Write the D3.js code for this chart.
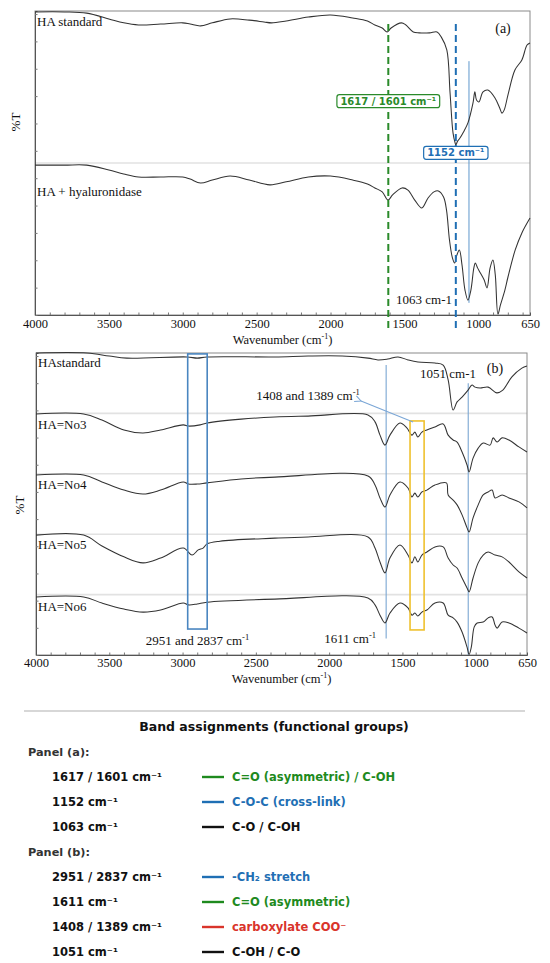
<!DOCTYPE html>
<html>
<head>
<meta charset="utf-8">
<script src="https://cdn.jsdelivr.net/npm/d3@7"></script>
<style>
  html, body { margin: 0; padding: 0; background: #fff; }
  svg { display: block; }
</style>
</head>
<body>
<svg id="chart" width="550" height="963"></svg>
<script>
// ---------------- DATA ----------------
const wavenumberTicks = [4000, 3500, 3000, 2500, 2000, 1500, 1000, 650];
const minorTickStep = 100;

// Panel (a) spectra: [wavenumber, relative %T (stacked)]
const haStandardA = [
  [4000,99.7],[3800,99.7],[3650,99.3],[3500,97.4],[3400,96.1],[3300,95.4],[3150,95.7],[3000,96.1],
  [2950,95.7],[2880,95.1],[2800,96.1],[2680,97.4],[2550,97.0],[2450,96.4],[2400,96.1],[2300,96.7],
  [2150,98.0],[2000,98.7],[1850,97.7],[1750,96.7],[1700,95.4],[1650,94.4],[1617,93.1],[1590,94.4],
  [1520,96.1],[1490,95.4],[1440,93.1],[1400,92.8],[1330,92.8],[1279,93.1],[1250,91.4],[1213,87.2],
  [1191,73.0],[1171,59.9],[1157,56.6],[1152,55.9],[1140,57.2],[1124,58.2],[1100,60.2],[1070,63.2],
  [1036,69.7],[1023,73.4],[1012,70.7],[996,70.1],[968,73.4],[935,74.0],[887,71.4],[855,68.1],
  [840,66.4],[825,67.4],[799,72.4],[752,80.6],[705,83.9],[670,88.8],[650,89.5]
];
const haHyaluronidaseA = [
  [4000,49.3],[3800,49.3],[3650,49.3],[3500,47.7],[3400,46.4],[3300,45.4],[3150,45.4],[3000,45.4],
  [2950,44.7],[2880,43.4],[2800,44.4],[2680,45.7],[2550,44.4],[2410,42.8],[2300,43.8],[2150,45.4],
  [2000,45.7],[1850,44.4],[1750,43.1],[1700,41.8],[1650,40.5],[1611,37.8],[1580,39.5],[1516,41.8],
  [1476,41.1],[1430,37.8],[1382,35.2],[1340,38.5],[1300,40.5],[1270,40.8],[1235,38.8],[1215,34.5],
  [1195,24.7],[1175,18.8],[1160,17.1],[1145,19.7],[1128,21.4],[1110,16.4],[1090,8.2],[1070,4.9],
  [1050,8.2],[1030,15.5],[1020,17.1],[1005,15.5],[989,14.1],[960,11.5],[941,8.9],[920,15.5],
  [901,18.1],[885,13.2],[867,0.3],[850,3.3],[820,8.2],[799,12.5],[750,21.4],[705,27.0],[650,31.9]
];
const seriesNamesA = ["HA standard", "HA + hyaluronidase"];
const separatorsA = [50];

// Panel (b) spectra
const haStandardB = [
  [4000,100],[3650,100],[3500,99.0],[3380,98.3],[2970,98.7],[2900,98.3],[2833,98.7],[2370,98.7],
  [2144,99.0],[1912,99.0],[1735,98.3],[1667,97.7],[1600,98.0],[1530,98.7],[1462,97.7],[1394,97.0],
  [1278,96.7],[1222,96.0],[1188,91.1],[1154,81.1],[1127,83.8],[1093,85.4],[1052,87.7],[1025,89.4],
  [1004,88.7],[970,88.4],[915,88.7],[856,86.8],[815,87.7],[753,92.1],[685,95.0],[650,95.7]
];
const haNo3 = [
  [4000,79.8],[3675,79.8],[3550,77.8],[3400,74.5],[3270,73.5],[3150,74.5],[2995,76.2],[2960,75.8],
  [2880,76.2],[2833,76.8],[2600,78.1],[2370,78.8],[2144,79.1],[1735,79.5],[1687,77.2],[1653,72.8],
  [1619,69.5],[1585,72.8],[1517,76.8],[1470,75.2],[1435,72.8],[1415,73.8],[1395,72.2],[1367,73.8],
  [1333,74.5],[1278,75.5],[1222,76.5],[1188,72.8],[1154,71.2],[1127,70.5],[1093,67.2],[1059,62.9],
  [1045,60.6],[1018,65.2],[983,68.5],[949,70.2],[902,69.5],[881,71.9],[854,70.5],[820,71.9],
  [773,71.2],[705,68.9],[650,67.2]
];
const haNo4 = [
  [4000,59.6],[3675,59.6],[3550,57.3],[3400,54.6],[3270,53.3],[3150,54.6],[2995,57.3],[2960,56.6],
  [2900,56.6],[2833,57.0],[2600,58.3],[2370,58.9],[1735,59.3],[1687,56.3],[1653,52.0],[1619,49.0],
  [1585,53.0],[1517,57.3],[1462,55.3],[1435,52.3],[1415,53.6],[1395,52.3],[1367,54.0],[1333,54.6],
  [1278,56.3],[1200,57.0],[1188,53.0],[1154,51.3],[1127,49.7],[1093,46.4],[1059,42.1],[1045,40.7],
  [1018,45.4],[983,49.7],[949,53.0],[915,54.0],[888,54.6],[868,52.0],[820,53.0],[773,52.0],
  [705,50.7],[650,48.7]
];
const haNo5 = [
  [4000,39.7],[3675,39.7],[3550,36.1],[3400,32.5],[3270,30.5],[3150,32.1],[2995,35.4],[2935,33.1],
  [2893,34.8],[2860,35.4],[2833,36.8],[2745,37.7],[2370,38.7],[2144,39.1],[1735,39.1],[1687,35.4],
  [1653,30.8],[1619,27.2],[1585,32.1],[1517,36.4],[1462,33.1],[1435,30.5],[1415,32.5],[1395,30.8],
  [1367,33.1],[1333,34.1],[1278,35.8],[1222,35.8],[1188,32.1],[1154,29.8],[1127,28.8],[1093,25.5],
  [1059,22.2],[1045,20.9],[1018,25.5],[983,30.5],[949,33.1],[915,34.1],[868,33.1],[820,32.5],
  [773,30.8],[705,27.5],[650,25.5]
];
const haNo6 = [
  [4000,19.2],[3675,19.2],[3550,17.2],[3400,15.2],[3270,14.2],[3150,14.9],[2995,17.2],[2960,16.6],
  [2900,16.9],[2833,17.5],[2370,18.5],[1735,18.9],[1687,16.6],[1653,13.2],[1619,10.6],[1585,13.9],
  [1517,17.2],[1462,15.6],[1435,13.2],[1415,13.9],[1395,12.9],[1367,14.2],[1333,14.9],[1278,17.2],
  [1222,17.2],[1188,13.2],[1154,12.3],[1127,10.9],[1093,7.6],[1059,2.6],[1045,0.2],[1030,2.6],
  [1010,9.3],[990,10.6],[949,10.9],[915,12.3],[888,12.6],[868,9.9],[854,8.9],[820,10.9],
  [773,10.6],[705,8.9],[650,7.3]
];
const seriesNamesB = ["HAstandard", "HA=No3", "HA=No4", "HA=No5", "HA=No6"];
const separatorsB = [80, 60, 40, 20];

// Band marks
const dashedBandsA = [
  { wn: 1609, color: "#2a8a2a", label: "1617 / 1601 cm\u207B\u00B9", labelAt: 70.5 },
  { wn: 1152, color: "#1f6fb4", label: "1152 cm\u207B\u00B9", labelAt: 53.5 }
];
const thinBandA = { wn: 1063, from: 83.5, to: 4, label: "1063 cm-1" };
const thinBandsB = [
  { wn: 1611, from: 96, to: 5.5, label: "1611 cm", sup: "-1" },
  { wn: 1051, from: 90, to: 0, label: "1051 cm-1", sup: "" }
];
const boxBandsB = [
  { wn0: 2965, wn1: 2832, top: 99.7, bottom: 8.6, color: "#4a86c0", label: "2951 and 2837 cm", sup: "-1" },
  { wn0: 1448, wn1: 1352, top: 77.5, bottom: 8.3, color: "#efc12e", label: "1408 and 1389 cm", sup: "-1" }
];

// Band-assignment table
const tableTitle = "Band assignments (functional groups)";
const tableGroups = ["Panel (a):", "Panel (b):"];
const bandLabels = [
  ["1617 / 1601 cm\u207B\u00B9", "1152 cm\u207B\u00B9", "1063 cm\u207B\u00B9"],
  ["2951 / 2837 cm\u207B\u00B9", "1611 cm\u207B\u00B9", "1408 / 1389 cm\u207B\u00B9", "1051 cm\u207B\u00B9"]
];
const bandGroups = [
  ["C=O (asymmetric) / C-OH", "C-O-C (cross-link)", "C-O / C-OH"],
  ["-CH\u2082 stretch", "C=O (asymmetric)", "carboxylate COO\u207B", "C-OH / C-O"]
];
const bandColors = [
  ["#1e8a1e", "#1f6fb4", "#111111"],
  ["#1f6fb4", "#1e8a1e", "#d9342b", "#111111"]
];

// ---------------- DRAWING ----------------
const svg = d3.select("#chart");
const serif = "'Liberation Serif', 'Times New Roman', serif";
const sans = "'DejaVu Sans', sans-serif";
const lineGen = (x, y) => d3.line().x(d => x(d[0])).y(d => y(d[1])).curve(d3.curveCatmullRom.alpha(0.5));

function drawPanel(cfg) {
  const { left, right, top, bottom } = cfg;
  const x = d3.scaleLinear().domain([4000, 650]).range([left, right]);
  const y = d3.scaleLinear().domain([0, 100]).range([bottom, top]);
  const g = svg.append("g");

  g.selectAll(".sep").data(cfg.separators).enter().append("line")
    .attr("x1", left).attr("x2", right)
    .attr("y1", d => y(d)).attr("y2", d => y(d))
    .attr("stroke", "#e2e2e2").attr("stroke-width", 1.6);

  g.append("rect").attr("x", left).attr("y", top).attr("width", right - left).attr("height", bottom - top)
    .attr("fill", "none").attr("stroke", "#8a8a8a").attr("stroke-width", 1);

  const minor = d3.range(4000, 649, -minorTickStep);
  g.append("g").attr("transform", `translate(0,${bottom})`)
    .call(d3.axisBottom(x).tickValues(minor).tickSize(-2.5).tickFormat(""))
    .call(a => a.select(".domain").attr("stroke", "#555"))
    .call(a => a.selectAll(".tick line").attr("stroke", "#777"));
  g.append("g").attr("transform", `translate(0,${bottom})`)
    .call(d3.axisBottom(x).tickValues(wavenumberTicks).tickSize(0).tickPadding(cfg.tickPad).tickFormat(d3.format("d")))
    .call(a => a.select(".domain").remove())
    .call(a => a.selectAll("text").attr("font-family", serif).attr("font-size", 12.5).attr("fill", "#111"));

  g.append("g").attr("transform", `translate(${left},0)`)
    .call(d3.axisLeft(y).tickValues(d3.range(0, 100.1, 9)).tickSize(-2.5).tickFormat(""))
    .call(a => a.select(".domain").attr("stroke", "#555"))
    .call(a => a.selectAll(".tick line").attr("stroke", "#777"));

  const xt = g.append("text").attr("x", (left + right) / 2).attr("y", bottom + cfg.titleOff)
    .attr("text-anchor", "middle").attr("font-family", serif).attr("font-size", 12.5).attr("fill", "#111")
    .text("Wavenumber (cm");
  xt.append("tspan").attr("font-size", 8).attr("dy", -5).text("-1");
  xt.append("tspan").attr("dy", 5).text(")");
  g.append("text").attr("transform", `translate(${cfg.yTitleX},${cfg.yTitleY}) rotate(-90)`)
    .attr("text-anchor", "middle").attr("font-family", serif).attr("font-size", 13).attr("fill", "#111")
    .text("%T");

  cfg.extra && cfg.extra(g, x, y);

  g.selectAll(".spec").data(cfg.series).enter().append("path")
    .attr("d", d => lineGen(x, y)(d)).attr("fill", "none")
    .attr("stroke", "#333").attr("stroke-width", 1.05);

  g.selectAll(".name").data(cfg.names).enter().append("text")
    .attr("x", left + 2).attr("y", (d, i) => cfg.nameY[i])
    .attr("font-family", serif).attr("font-size", 13).attr("fill", "#111").text(d => d);

  g.append("text").attr("x", cfg.letterX).attr("y", cfg.letterY).attr("text-anchor", "middle")
    .attr("font-family", serif).attr("font-size", 14).attr("fill", "#111").text(cfg.letter);

  cfg.after && cfg.after(g, x, y);
}

// Panel (a)
drawPanel({
  left: 35, right: 530, top: 11, bottom: 315, tickPad: 4.5, titleOff: 29,
  separators: separatorsA,
  series: [haStandardA, haHyaluronidaseA],
  names: seriesNamesA, nameY: [26, 196],
  yTitleX: 20, yTitleY: 122,
  letter: "(a)", letterX: 503, letterY: 33,
  extra: (g, x, y) => {
    g.append("line").attr("x1", x(thinBandA.wn)).attr("x2", x(thinBandA.wn))
      .attr("y1", y(thinBandA.from)).attr("y2", y(thinBandA.to))
      .attr("stroke", "#5f98cc").attr("stroke-width", 1);
  },
  after: (g, x, y) => {
    dashedBandsA.forEach(b => {
      g.append("line").attr("x1", x(b.wn)).attr("x2", x(b.wn))
        .attr("y1", 24).attr("y2", 331)
        .attr("stroke", b.color).attr("stroke-width", 2).attr("stroke-dasharray", "7,4");
    });
    dashedBandsA.forEach(b => {
      const t = g.append("text").attr("x", x(b.wn)).attr("y", y(b.labelAt) + 4)
        .attr("text-anchor", "middle").attr("font-family", sans).attr("font-weight", "bold")
        .attr("font-size", 10).attr("fill", b.color).text(b.label);
      const bb = t.node().getBBox();
      g.insert("rect", () => t.node())
        .attr("x", bb.x - 3.5).attr("y", bb.y - 1).attr("width", bb.width + 7).attr("height", bb.height + 2)
        .attr("rx", 2.5).attr("fill", "#fff").attr("stroke", b.color).attr("stroke-width", 1.2);
    });
    g.append("text").attr("x", 452).attr("y", y(thinBandA.to) + 1)
      .attr("text-anchor", "end").attr("font-family", serif).attr("font-size", 13).attr("fill", "#111")
      .text(thinBandA.label);
  }
});

// Panel (b)
drawPanel({
  left: 36, right: 527, top: 353, bottom: 655, tickPad: 3.5, titleOff: 27.5,
  separators: separatorsB,
  series: [haStandardB, haNo3, haNo4, haNo5, haNo6],
  names: seriesNamesB, nameY: [367, 429, 489, 549, 611],
  yTitleX: 24, yTitleY: 505,
  letter: "(b)", letterX: 495, letterY: 373,
  extra: (g, x, y) => {
    thinBandsB.forEach(b => {
      g.append("line").attr("x1", x(b.wn)).attr("x2", x(b.wn))
        .attr("y1", y(b.from)).attr("y2", y(b.to))
        .attr("stroke", "#7aa6d2").attr("stroke-width", 1.1);
    });
  },
  after: (g, x, y) => {
    boxBandsB.forEach(b => {
      g.append("rect").attr("x", x(b.wn0)).attr("y", y(b.top))
        .attr("width", x(b.wn1) - x(b.wn0)).attr("height", y(b.bottom) - y(b.top))
        .attr("fill", "none").attr("stroke", b.color).attr("stroke-width", 1.6);
    });
    const lab = (xx, yy, anchor, txt, sup) => {
      const t = g.append("text").attr("x", xx).attr("y", yy).attr("text-anchor", anchor)
        .attr("font-family", serif).attr("font-size", 13).attr("fill", "#111").text(txt);
      if (sup) t.append("tspan").attr("font-size", 8.5).attr("dy", -5).text(sup);
      return t;
    };
    lab((x(boxBandsB[0].wn0) + x(boxBandsB[0].wn1)) / 2, 645, "middle", boxBandsB[0].label, boxBandsB[0].sup);
    lab(308, 400, "middle", boxBandsB[1].label, boxBandsB[1].sup);
    lab(376, 643, "end", thinBandsB[0].label, thinBandsB[0].sup);
    lab(420, 378, "start", thinBandsB[1].label, "");
    svg.append("defs").append("marker").attr("id", "arr").attr("viewBox", "0 0 10 10")
      .attr("refX", 1).attr("refY", 5).attr("markerWidth", 7).attr("markerHeight", 7).attr("orient", "auto-start-reverse")
      .append("path").attr("d", "M9,1 L1,5 L9,9").attr("fill", "none").attr("stroke", "#7aa6d6").attr("stroke-width", 1.4);
    g.append("line").attr("x1", x(boxBandsB[1].wn0) + 3).attr("y1", y(boxBandsB[1].top) + 1)
      .attr("x2", 361).attr("y2", 401).attr("stroke", "#7aa6d6").attr("stroke-width", 1.1)
      .attr("marker-end", "url(#arr)");
  }
});

// ---------------- TABLE ----------------
const tg = svg.append("g");
tg.append("line").attr("x1", 24).attr("x2", 525).attr("y1", 711).attr("y2", 711)
  .attr("stroke", "#b0b0b0").attr("stroke-width", 1.2);
tg.append("text").attr("x", 274).attr("y", 731).attr("text-anchor", "middle")
  .attr("font-family", sans).attr("font-weight", "bold").attr("font-size", 12.5).attr("fill", "#111")
  .text(tableTitle);

let rowY = 752;
tableGroups.forEach((grp, gi) => {
  tg.append("text").attr("x", 28).attr("y", rowY + 4).attr("font-family", sans).attr("font-weight", "bold")
    .attr("font-size", 11.3).attr("fill", "#333").text(grp);
  rowY += 25;
  bandLabels[gi].forEach((lbl, ri) => {
    tg.append("text").attr("x", 52).attr("y", rowY + 4).attr("font-family", sans).attr("font-weight", "bold")
      .attr("font-size", 11.5).attr("fill", "#111").text(lbl);
    tg.append("line").attr("x1", 202).attr("x2", 224).attr("y1", rowY).attr("y2", rowY)
      .attr("stroke", bandColors[gi][ri]).attr("stroke-width", 2.4);
    tg.append("text").attr("x", 232).attr("y", rowY + 4).attr("font-family", sans).attr("font-weight", "bold")
      .attr("font-size", 11.5).attr("fill", bandColors[gi][ri]).text(bandGroups[gi][ri]);
    rowY += 25;
  });
});
</script>
</body>
</html>
